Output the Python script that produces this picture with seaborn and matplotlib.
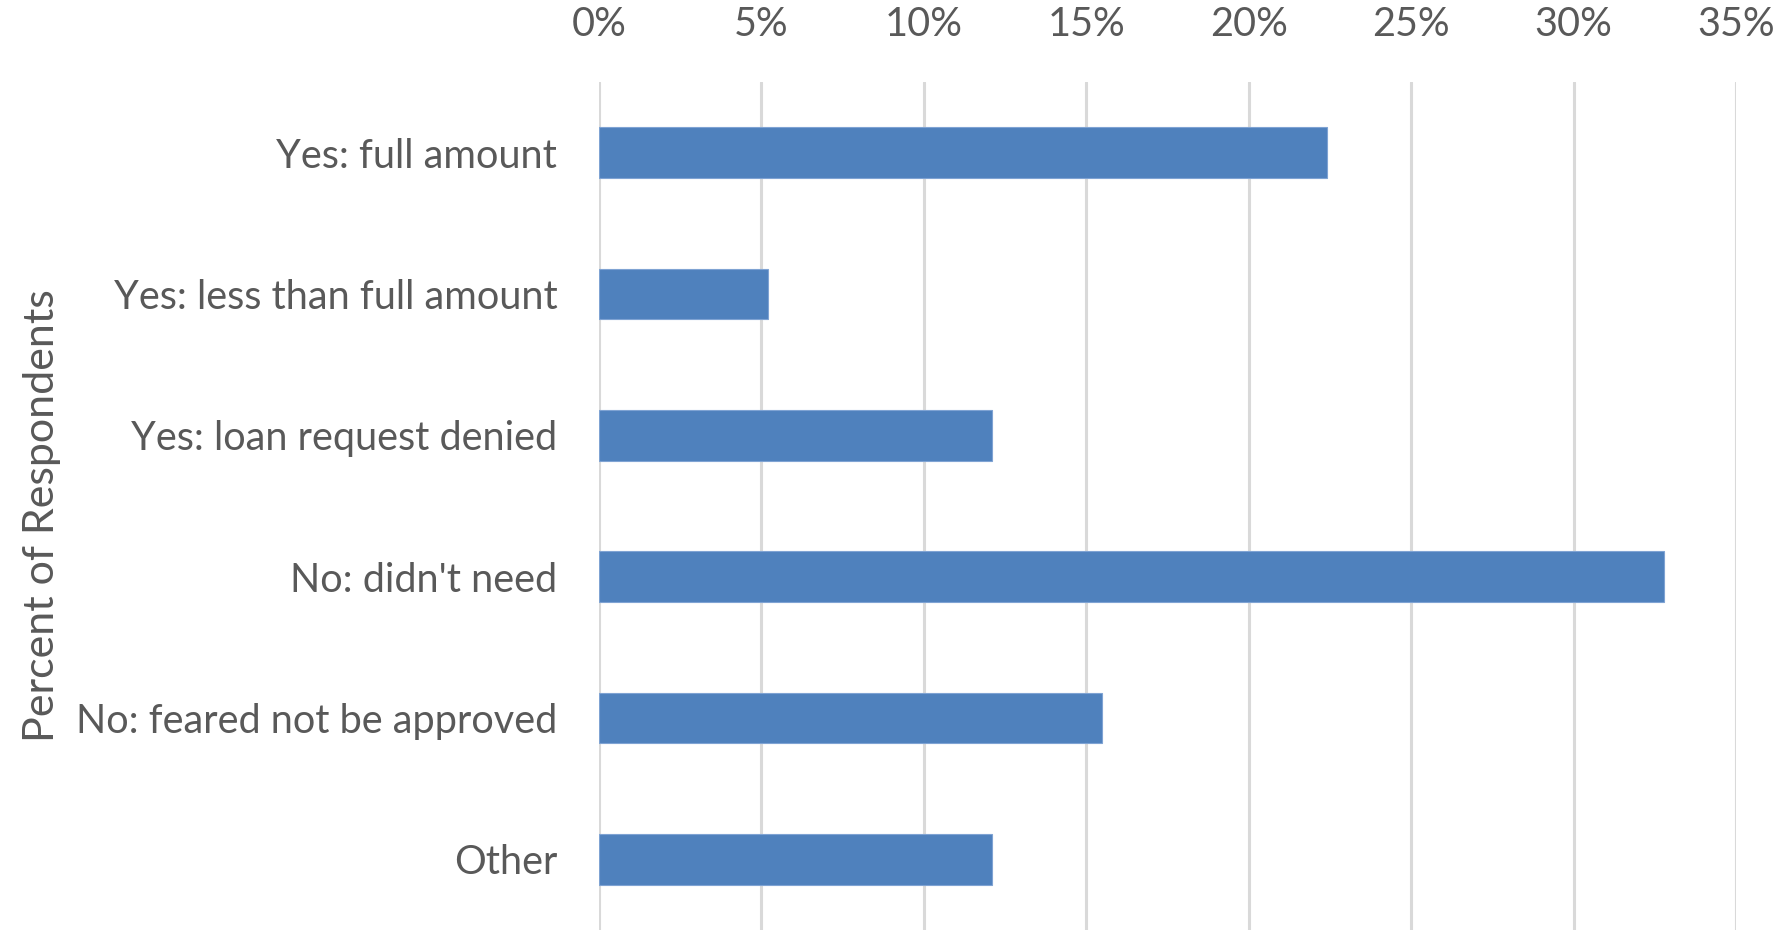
import matplotlib
matplotlib.use("Agg")
import matplotlib.pyplot as plt
import seaborn as sns
import pandas as pd
from matplotlib.ticker import FuncFormatter, MultipleLocator

# Survey responses: did the business apply for a loan?
categories = [
    "Yes: full amount",
    "Yes: less than full amount",
    "Yes: loan request denied",
    "No: didn't need",
    "No: feared not be approved",
    "Other",
]
percent = [22.4, 5.2, 12.1, 32.8, 15.5, 12.1]

df = pd.DataFrame({"category": categories, "percent": percent})

sns.set_theme(style="white")
plt.rcParams["font.family"] = ["Lato", "DejaVu Sans"]

text_color = "#595959"
bar_color = "#4F81BD"
grid_color = "#D9D9D9"

fig = plt.figure(figsize=(17.9, 9.3), dpi=100)
ax = fig.add_axes([0.3346, 0.0, 0.9698 - 0.3346, 0.9118])

sns.barplot(data=df, y="category", x="percent", orient="h",
            color=bar_color, saturation=1, width=0.36,
            edgecolor="#7FA3D3", linewidth=0.8, ax=ax, zorder=3)

ax.set_xlim(0, 35)
ax.xaxis.set_major_locator(MultipleLocator(5))
ax.xaxis.set_major_formatter(FuncFormatter(lambda v, _: f"{v:.0f}%"))
ax.xaxis.tick_top()
ax.tick_params(axis="x", length=0, pad=28, labelsize=28.5, labelcolor=text_color)
ax.tick_params(axis="y", length=0, pad=30, labelsize=28.5, labelcolor=text_color)

ax.grid(axis="x", color=grid_color, linewidth=2.2, zorder=0)
ax.grid(axis="y", visible=False)
for s in ax.spines.values():
    s.set_visible(False)

ax.set_xlabel("")
ax.set_ylabel("Percent of Respondents", fontsize=31, color=text_color)
ax.yaxis.set_label_coords(-0.473, 0.489)

fig.savefig("out.png", dpi=100, facecolor="white")
